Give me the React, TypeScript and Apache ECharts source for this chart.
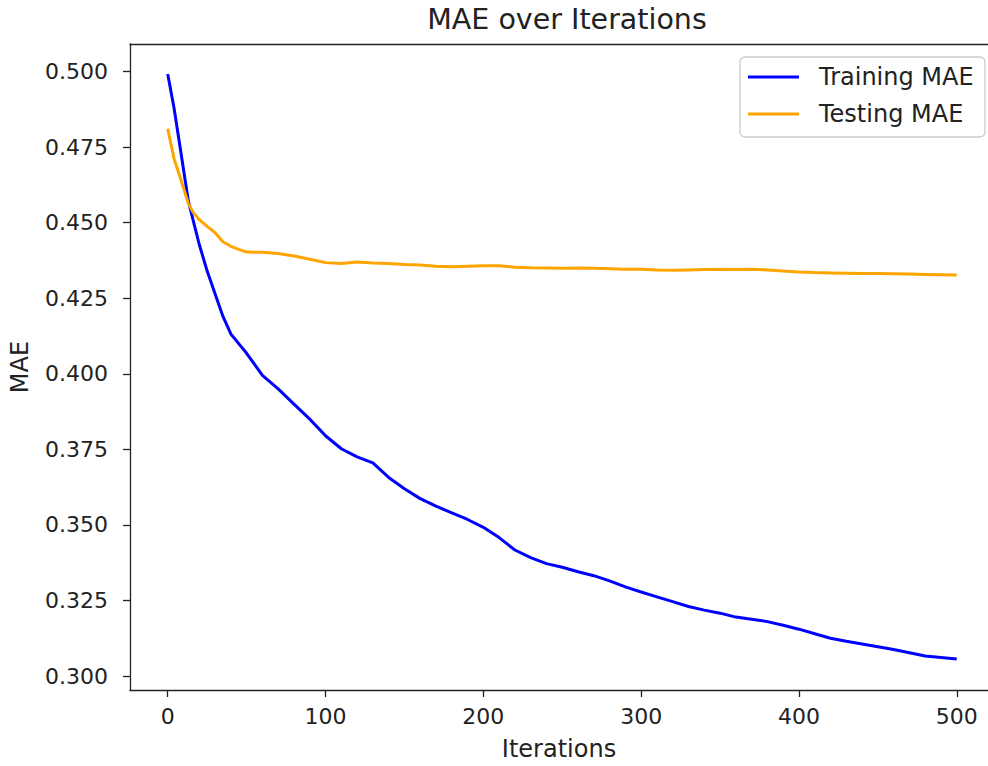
import React, { useEffect, useRef } from "react";
import * as echarts from "echarts";

const iterations = [
  0, 4, 8, 13, 16, 20, 25, 30, 35, 40, 45, 50, 60, 70, 80, 90, 100, 110, 120, 130,
  140, 150, 160, 170, 180, 190, 200, 210, 220, 230, 240, 250, 260, 270, 280, 290,
  300, 310, 320, 330, 340, 350, 360, 370, 380, 390, 400, 410, 420, 430, 440, 450,
  460, 470, 480, 490, 500,
];

const trainingMAE = [
  0.4992, 0.488, 0.4745, 0.4574, 0.451, 0.4428, 0.434, 0.4265, 0.419, 0.4132, 0.41,
  0.4068, 0.3995, 0.395, 0.39, 0.385, 0.3795, 0.3752, 0.3725, 0.3705, 0.3657, 0.362,
  0.3587, 0.3562, 0.354, 0.3518, 0.3492, 0.3458, 0.3417, 0.3392, 0.3372, 0.336,
  0.3345, 0.3332, 0.3315, 0.3295, 0.3278, 0.3262, 0.3246, 0.323, 0.3218, 0.3208,
  0.3195, 0.3188, 0.318, 0.3168, 0.3155, 0.314, 0.3125, 0.3115, 0.3106, 0.3097,
  0.3088, 0.3077, 0.3066, 0.3061, 0.3056,
];

const testingMAE = [
  0.4811, 0.4712, 0.4648, 0.4565, 0.4535, 0.451, 0.4488, 0.4467, 0.4437, 0.4422,
  0.4412, 0.4403, 0.4402, 0.4398, 0.439, 0.4379, 0.4368, 0.4365, 0.437, 0.4367,
  0.4365, 0.4362, 0.436, 0.4356, 0.4354, 0.4356, 0.4358, 0.4358, 0.4353, 0.4351,
  0.435, 0.4349, 0.435, 0.4349, 0.4348, 0.4346, 0.4346, 0.4344, 0.4343, 0.4344,
  0.4345, 0.4346, 0.4345, 0.4346, 0.4344, 0.434, 0.4337, 0.4335, 0.4334, 0.4333,
  0.4332, 0.4332, 0.4331, 0.433, 0.4329, 0.4328, 0.4327,
];

const xTicks = [0, 100, 200, 300, 400, 500];
const yTicks = [0.3, 0.325, 0.35, 0.375, 0.4, 0.425, 0.45, 0.475, 0.5];

const seriesNames = ["Training MAE", "Testing MAE"];
const seriesColors = ["#0000ff", "#ffa500"];

const FONT = "DejaVu Sans";
const TXT = "#222222";
const SPINE = "#222222";

const X_MIN = -23.9;
const X_MAX = 519.8;
const Y_MIN = 0.29537;
const Y_MAX = 0.50915;

export default function App() {
  const ref = useRef<HTMLDivElement>(null);

  useEffect(() => {
    if (!ref.current) return;
    const chart = echarts.init(ref.current, undefined, { renderer: "svg" });

    const trainData = iterations.map((it, i) => [it, trainingMAE[i]]);
    const testData = iterations.map((it, i) => [it, testingMAE[i]]);

    const legendX = 740;
    const legendY = 57;
    const legendRows = [77, 114];

    chart.setOption({
      animation: false,
      backgroundColor: "#ffffff",
      textStyle: { fontFamily: FONT },
      title: {
        text: "MAE over Iterations",
        left: 562,
        top: 0,
        textAlign: "center",
        textStyle: { fontFamily: FONT, fontSize: 28.5, fontWeight: "normal", color: TXT },
      },
      grid: {
        left: 130,
        top: 44,
        width: 858,
        height: 647,
        show: false,
        containLabel: false,
      },
      xAxis: [
        {
          type: "value",
          position: "bottom",
          min: X_MIN,
          max: X_MAX,
          name: "Iterations",
          nameLocation: "middle",
          nameGap: 47,
          nameTextStyle: { fontFamily: FONT, fontSize: 24, color: TXT },
          axisLine: { show: true, onZero: false, lineStyle: { color: SPINE, width: 1.3 } },
          axisTick: {
            show: true,
            inside: false,
            length: 7,
            customValues: xTicks,
            lineStyle: { color: SPINE, width: 1.3 },
          },
          axisLabel: {
            show: true,
            margin: 15,
            customValues: xTicks,
            formatter: (v: number) => String(v),
            fontFamily: FONT,
            fontSize: 22,
            color: TXT,
          },
          splitLine: { show: false },
        },
        {
          type: "value",
          position: "top",
          min: X_MIN,
          max: X_MAX,
          axisLine: { show: true, onZero: false, lineStyle: { color: SPINE, width: 1.3 } },
          axisTick: { show: false },
          axisLabel: { show: false },
          splitLine: { show: false },
        },
      ],
      yAxis: {
        type: "value",
        min: Y_MIN,
        max: Y_MAX,
        name: "MAE",
        nameLocation: "middle",
        nameGap: 98,
        nameTextStyle: { fontFamily: FONT, fontSize: 24, color: TXT },
        axisLine: { show: true, onZero: false, lineStyle: { color: SPINE, width: 1.3 } },
        axisTick: {
          show: true,
          inside: false,
          length: 7,
          customValues: yTicks,
          lineStyle: { color: SPINE, width: 1.3 },
        },
        axisLabel: {
          show: true,
          margin: 22,
          customValues: yTicks,
          formatter: (v: number) => v.toFixed(3),
          fontFamily: FONT,
          fontSize: 22,
          color: TXT,
        },
        splitLine: { show: false },
      },
      series: [
        {
          name: seriesNames[0],
          type: "line",
          xAxisIndex: 0,
          data: trainData,
          showSymbol: false,
          symbol: "none",
          lineStyle: { color: seriesColors[0], width: 3 },
          itemStyle: { color: seriesColors[0] },
          z: 2,
        },
        {
          name: seriesNames[1],
          type: "line",
          xAxisIndex: 0,
          data: testData,
          showSymbol: false,
          symbol: "none",
          lineStyle: { color: seriesColors[1], width: 3 },
          itemStyle: { color: seriesColors[1] },
          z: 3,
        },
      ],
      graphic: [
        {
          type: "rect",
          shape: { x: legendX, y: legendY, width: 245, height: 80, r: 5 },
          style: { fill: "rgba(255,255,255,0.8)", stroke: "#cccccc", lineWidth: 1.3 },
          z: 100,
        },
        ...seriesNames.flatMap((name, i) => [
          {
            type: "line",
            shape: { x1: 748, y1: legendRows[i], x2: 799, y2: legendRows[i] },
            style: { stroke: seriesColors[i], lineWidth: 3 },
            z: 101,
          },
          {
            type: "text",
            x: 819,
            y: legendRows[i],
            style: {
              text: name,
              fontFamily: FONT,
              fontSize: 24,
              fill: TXT,
              verticalAlign: "middle",
              align: "left",
            },
            z: 101,
          },
        ]),
      ],
    });

    return () => {
      chart.dispose();
    };
  }, []);

  return (
    <div
      ref={ref}
      style={{ position: "absolute", left: 0, top: 0, width: 988, height: 766, background: "#fff" }}
    />
  );
}
